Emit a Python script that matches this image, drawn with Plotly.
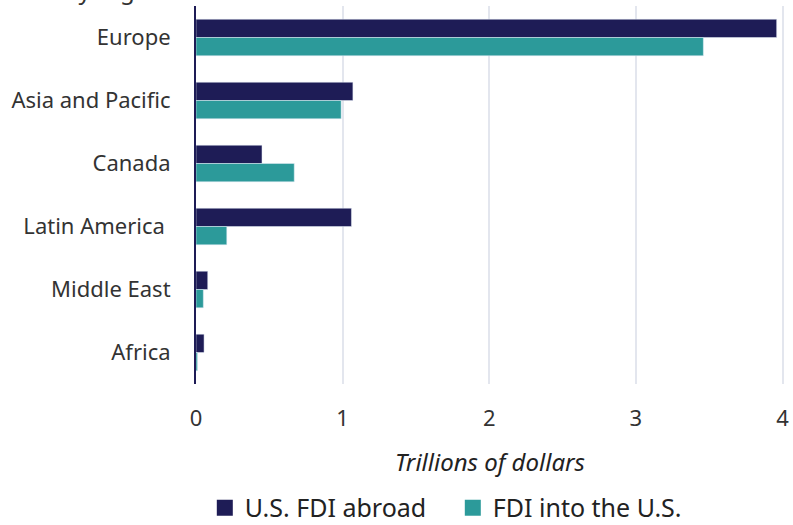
import plotly.graph_objects as go

regions = ["Europe", "Asia and Pacific", "Canada", "Latin America\u00a0", "Middle East", "Africa"]
fdi_abroad = [3.96, 1.07, 0.45, 1.06, 0.08, 0.055]
fdi_into_us = [3.46, 0.99, 0.67, 0.21, 0.05, 0.01]
x_ticks = [0, 1, 2, 3, 4]
series_names = ["U.S. FDI abroad", "FDI into the U.S."]

NAVY = "#1e1c56"
TEAL = "#2c9a9a"
FONT = "Noto Sans"

fig = go.Figure()
fig.add_trace(go.Bar(y=regions, x=fdi_abroad, orientation="h", name=series_names[0],
                     marker=dict(color=NAVY), showlegend=False))
fig.add_trace(go.Bar(y=regions, x=fdi_into_us, orientation="h", name=series_names[1],
                     marker=dict(color=TEAL), showlegend=False))
# legend entries with square swatches
for name, col in zip(series_names, [NAVY, TEAL]):
    fig.add_trace(go.Scatter(x=[None], y=[None], mode="markers", name=name,
                             marker=dict(symbol="square", size=18, color=col)))

fig.update_layout(
    width=793, height=525,
    margin=dict(l=196, r=9, t=6, b=141, autoexpand=False),
    paper_bgcolor="white", plot_bgcolor="white",
    barmode="group", bargap=0.42, bargroupgap=0,
    font=dict(family=FONT, size=22, color="#333333"),
    legend=dict(orientation="h", xref="container", yref="paper",
                x=0.571, xanchor="center", y=-0.328, yanchor="middle",
                font=dict(size=25, color="#222222"), itemwidth=30,
                entrywidth=203, tracegroupgap=0),
    showlegend=True,
)
fig.update_xaxes(range=[0, 4.01], tickvals=x_ticks, showgrid=True, gridcolor="#e3e6ee", gridwidth=2,
                 zeroline=False, showline=False, ticks="outside", ticklen=15, tickcolor="rgba(0,0,0,0)",
                 tickfont=dict(size=22, color="#333333"), automargin=False,
                 title=dict(text="<i>Trillions of dollars</i>", font=dict(size=24, color="#222222"), standoff=22))
fig.update_yaxes(autorange="reversed", showgrid=False, showline=True, linecolor=NAVY, linewidth=2,
                 ticks="outside", ticklen=19, tickcolor="rgba(0,0,0,0)", automargin=False,
                 tickfont=dict(size=22, color="#333333"))

fig.add_annotation(text="By region", xref="paper", yref="paper", x=-0.23, y=1.0,
                   xanchor="left", yanchor="bottom", yshift=-2, showarrow=False,
                   font=dict(size=24, color="#333333"))

fig.write_html("out.html", config={"displayModeBar": False},
               post_script="document.body.style.margin='0';")
